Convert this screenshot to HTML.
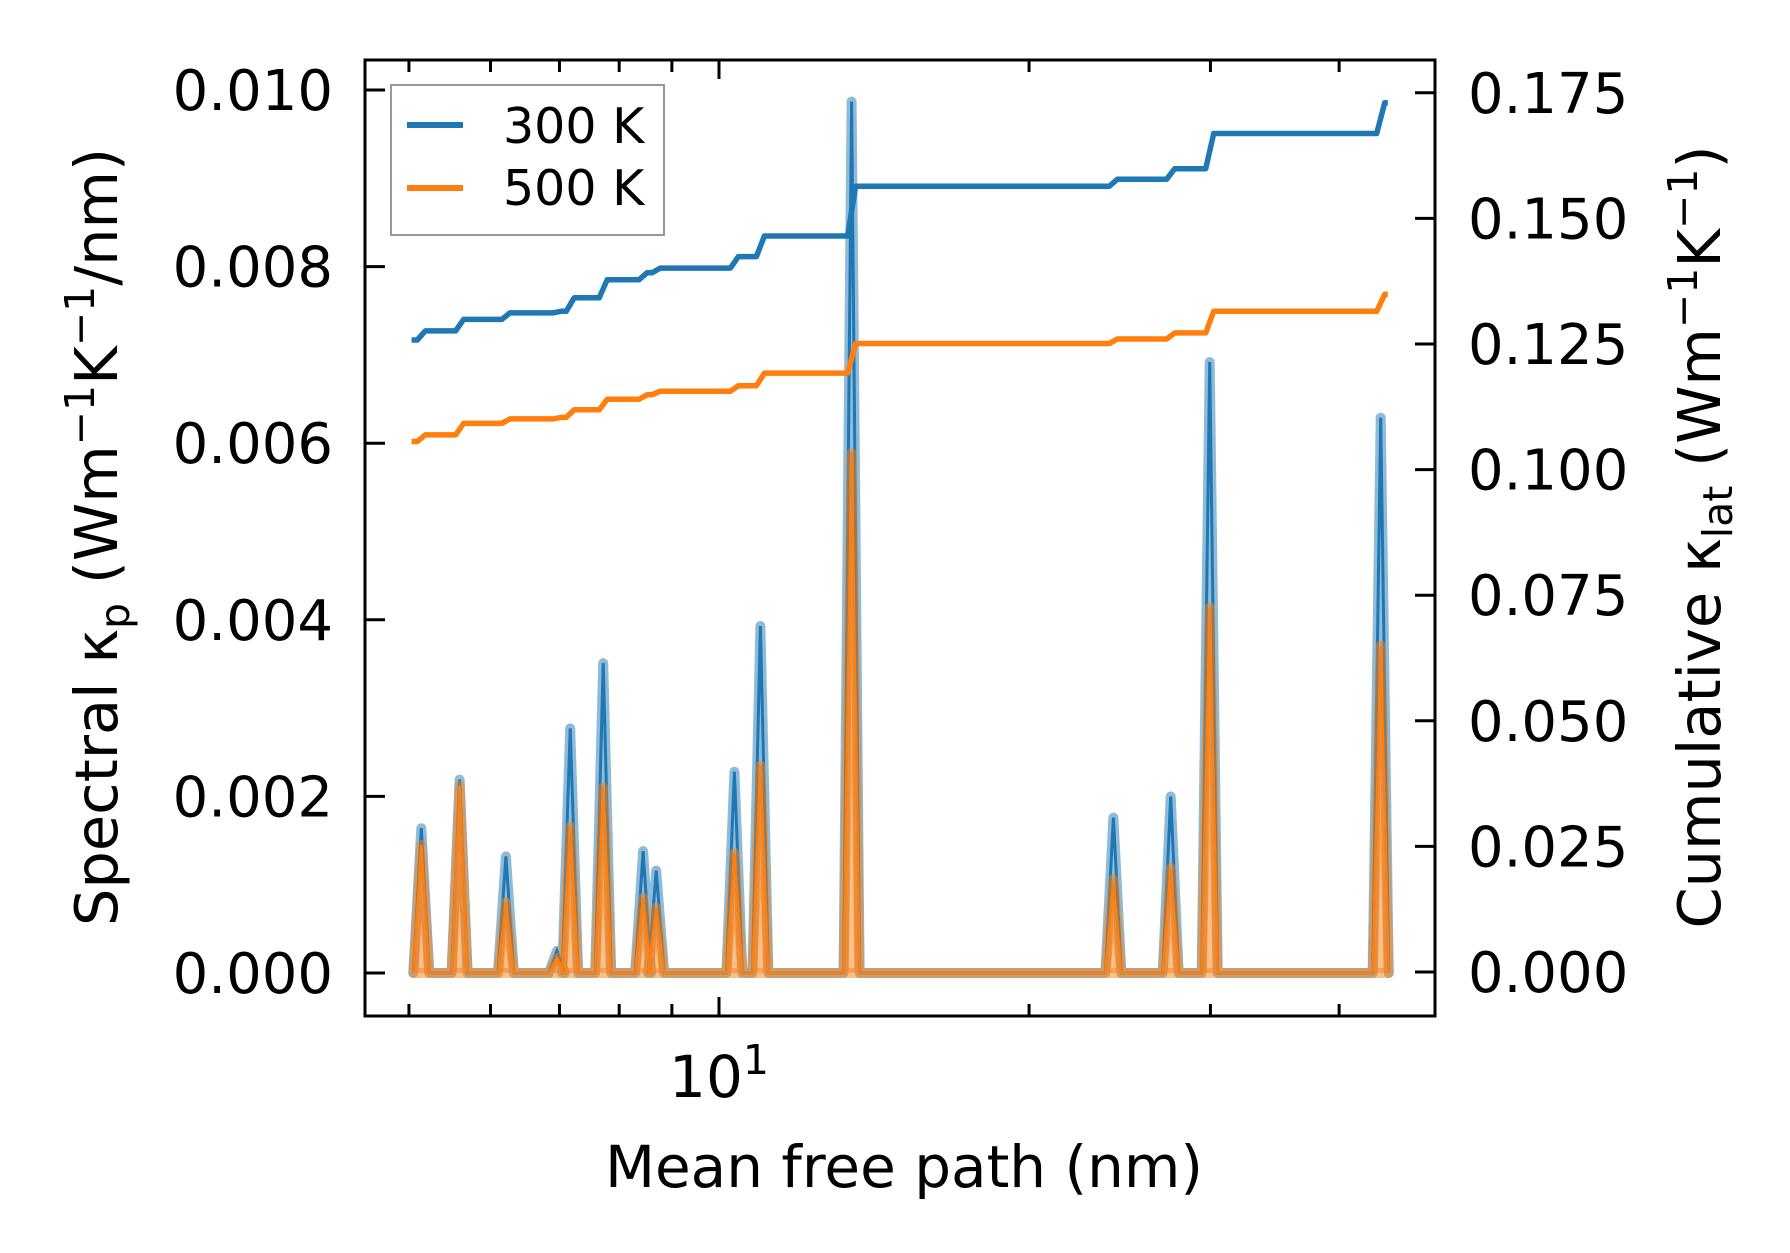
<!DOCTYPE html>
<html><head><meta charset="utf-8"><style>
html,body{margin:0;padding:0;background:#fff}
svg{display:block}
text{font-family:"DejaVu Sans","Liberation Sans",sans-serif;fill:#000}
</style></head><body>
<svg id="chart" width="1790" height="1253" viewBox="0 0 1790 1253" xmlns="http://www.w3.org/2000/svg">
<g id="plot"></g>
<rect x="365" y="60" width="1070" height="956" fill="none" stroke="#000" stroke-width="3"/>
<g id="ticks"></g>
<text x="904" y="1187" font-size="58" text-anchor="middle">Mean free path (nm)</text>
<text transform="translate(117,537) rotate(-90)" font-size="59" text-anchor="middle">Spectral κ<tspan font-size="41" dy="12">p</tspan><tspan dy="-12"> (Wm</tspan><tspan font-size="41" dy="-23">−1</tspan><tspan dy="23">K</tspan><tspan font-size="41" dy="-23">−1</tspan><tspan dy="23">/nm)</tspan></text>
<text transform="translate(1720,537) rotate(-90)" font-size="59" text-anchor="middle">Cumulative κ<tspan font-size="41" dy="12">lat</tspan><tspan dy="-12"> (Wm</tspan><tspan font-size="41" dy="-23">−1</tspan><tspan dy="23">K</tspan><tspan font-size="41" dy="-23">−1</tspan><tspan dy="23">)</tspan></text>
<g>
<rect x="391" y="85" width="273" height="150" fill="#fff" fill-opacity="0.8" stroke="#999" stroke-width="2"/>
<line x1="407" y1="125" x2="463" y2="125" stroke="#1f77b4" stroke-width="6"/>
<text x="503" y="143" font-size="49">300 K</text>
<line x1="407" y1="188" x2="463" y2="188" stroke="#ff7f0e" stroke-width="6"/>
<text x="503" y="205" font-size="49">500 K</text>
</g>
</svg>
<script>
const peakMfp = [5.14,5.60,6.21,6.96,7.17,7.72,8.44,8.69,10.35,10.97,13.45,24.15,27.45,29.95,43.9];
const spec300 = [0.00164,0.00219,0.00132,0.00025,0.00277,0.00351,0.00138,0.00116,0.00228,0.00393,0.00987,0.00176,0.00200,0.00692,0.00629];
const spec500 = [0.00145,0.00212,0.00080,0.00017,0.00166,0.00210,0.00085,0.00074,0.00136,0.00235,0.00589,0.00106,0.00119,0.00414,0.00371];
const cumStartMfp = 5.03;
const cumEndMfp = 44.6;
const cum300 = [0.1258,0.1276,0.1299,0.1312,0.1315,0.1342,0.1378,0.1392,0.1401,0.1424,0.1465,0.1564,0.1578,0.1599,0.1669,0.1730];
const cum500 = [0.1056,0.1069,0.1092,0.1101,0.1104,0.1119,0.1140,0.1149,0.1156,0.1167,0.1192,0.1251,0.1260,0.1272,0.1315,0.1349];
const leftTicks = [0,0.002,0.004,0.006,0.008,0.010];
const leftTickLabels = ["0.000","0.002","0.004","0.006","0.008","0.010"];
const rightTicks = [0,0.025,0.05,0.075,0.1,0.125,0.15,0.175];
const rightTickLabels = ["0.000","0.025","0.050","0.075","0.100","0.125","0.150","0.175"];
const xMinorTicks = [5,6,7,8,9,20,30,40];

const NS="http://www.w3.org/2000/svg";
const X = v => 719 + 1030*Math.log10(v/10);
const YL = v => 973 - v/0.002*176.6;
const YR = v => 972 - v/0.025*125.6;
const plot=document.getElementById('plot'), ticks=document.getElementById('ticks');
function mk(tag, parent, attrs){const e=document.createElementNS(NS,tag);for(const k in attrs)e.setAttribute(k,attrs[k]);parent.appendChild(e);return e;}

const HW = Math.pow(10, 8/1030);
function specPts(vals, yf){
  const p=[[X(peakMfp[0]/HW), yf(0)]];
  for(let i=0;i<peakMfp.length;i++){
    p.push([X(peakMfp[i]/HW), yf(0)]);
    p.push([X(peakMfp[i]), yf(vals[i])]);
    p.push([X(peakMfp[i]*HW), yf(0)]);
  }
  return p;
}
const toStr = p => p.map(q=>q[0].toFixed(1)+','+q[1].toFixed(1)).join(' ');
const p300 = specPts(spec300, YL), p500 = specPts(spec500, YL);

let e;
e=mk('polyline',plot,{points:toStr(p300),fill:'none',stroke:'#1f77b4','stroke-opacity':0.5,'stroke-width':10,'stroke-linejoin':'round','stroke-linecap':'round'});


e=mk('polyline',plot,{points:toStr(p300),fill:'none',stroke:'#1f77b4','stroke-width':3});


e=mk('polygon',plot,{points:toStr(p500),fill:'#ff7f0e','fill-opacity':0.5,stroke:'#ff7f0e','stroke-opacity':0.5,'stroke-width':10,'stroke-linejoin':'round'});


e=mk('polyline',plot,{points:toStr(p500),fill:'none',stroke:'#ff7f0e','stroke-width':2.5});



const SW = Math.pow(10, 4/1030);
function cumPts(vals){
  const p=[[X(cumStartMfp), YR(vals[0])]];
  for(let i=0;i<peakMfp.length;i++){
    p.push([X(peakMfp[i]/SW), YR(vals[i])]);
    p.push([X(peakMfp[i]*SW), YR(vals[i+1])]);
  }
  p.push([X(cumEndMfp), YR(vals[vals.length-1])]);
  return p;
}
e=mk('polyline',plot,{points:toStr(cumPts(cum300)),fill:'none',stroke:'#1f77b4','stroke-width':5.5,'stroke-linejoin':'round'});


e=mk('polyline',plot,{points:toStr(cumPts(cum500)),fill:'none',stroke:'#ff7f0e','stroke-width':5.5,'stroke-linejoin':'round'});



leftTicks.forEach((v,i)=>{
  const y=YL(v);
  e=mk('line',ticks,{x1:365,x2:385,y1:y,y2:y,stroke:'#000','stroke-width':3});
  
  
  e=mk('text',ticks,{x:333,y:y+20,'font-size':56,'text-anchor':'end'});
  e.textContent=leftTickLabels[i];
  
  
});
rightTicks.forEach((v,i)=>{
  const y=YR(v);
  e=mk('line',ticks,{x1:1415,x2:1435,y1:y,y2:y,stroke:'#000','stroke-width':3});
  
  
  e=mk('text',ticks,{x:1468,y:y+20,'font-size':56});
  e.textContent=rightTickLabels[i];
  
  
});
xMinorTicks.forEach(v=>{
  const x=X(v);
  e=mk('line',ticks,{x1:x,x2:x,y1:1016,y2:1004,stroke:'#000','stroke-width':3});
  
  
  e=mk('line',ticks,{x1:x,x2:x,y1:60,y2:72,stroke:'#000','stroke-width':3});
  
  
});
const xm=X(10);
e=mk('line',ticks,{x1:xm,x2:xm,y1:1016,y2:997,stroke:'#000','stroke-width':3});


e=mk('line',ticks,{x1:xm,x2:xm,y1:60,y2:79,stroke:'#000','stroke-width':3});


e=mk('text',ticks,{x:xm,y:1097,'font-size':58,'text-anchor':'middle'});
e.innerHTML='10<tspan font-size="41" dy="-23">1</tspan>';


</script>
</body></html>
